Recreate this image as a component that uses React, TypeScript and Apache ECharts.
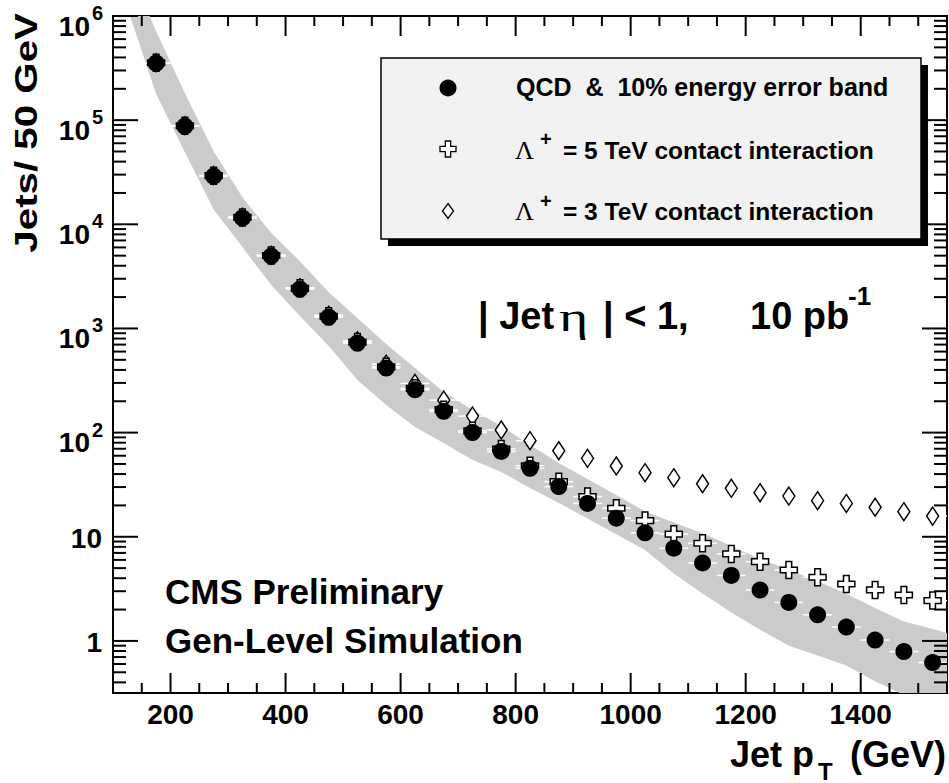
import React, { useEffect, useRef } from 'react';
import * as echarts from 'echarts';

// ---------- data ----------
const ptBins = [175, 225, 275, 325, 375, 425, 475, 525, 575, 625, 675, 725, 775, 825, 875, 925, 975, 1025, 1075, 1125, 1175, 1225, 1275, 1325, 1375, 1425, 1475, 1525];
const qcd = [352000, 87500, 29000, 11500, 4950, 2390, 1285, 724, 417, 258, 160, 100, 65.9, 45.4, 30.3, 20.9, 15.1, 10.9, 7.76, 5.6, 4.25, 3.08, 2.34, 1.78, 1.36, 1.02, 0.79, 0.62];
const ci5TeV = [355500, 88400, 29300, 11650, 5020, 2430, 1310, 740, 428, 266, 166, 104, 69.6, 48.1, 33.8, 24.3, 18.8, 14.3, 10.6, 8.66, 6.84, 5.77, 4.8, 4.09, 3.52, 3.09, 2.76, 2.44];
const ci3TeV = [356000, 88500, 29400, 11700, 5050, 2460, 1340, 760, 455, 297, 205, 144, 106, 83.6, 67, 56.7, 47.8, 41.2, 36.9, 32.3, 29.2, 26.5, 24.6, 22.2, 20.9, 19.2, 17.4, 15.8];

const bandPt = [125, 175, 225, 275, 325, 375, 425, 475, 525, 575, 625, 675, 725, 775, 825, 875, 925, 975, 1025, 1075, 1125, 1175, 1225, 1275, 1325, 1375, 1425, 1475, 1525, 1550];
const bandUpper = [3200000, 714000, 181600, 50400, 18200, 8240, 4430, 2230, 1260, 708, 417, 245, 165, 116, 76, 51, 35.9, 25.2, 17.5, 13.7, 10.8, 8.16, 6.12, 4.85, 3.74, 2.84, 2.07, 1.54, 1.3, 1.19];
const bandLower = [1190000, 178000, 49300, 13900, 6040, 2610, 1315, 678, 320, 184, 113, 79.4, 54.6, 41.9, 29.4, 21.1, 15.0, 10.6, 7.47, 4.45, 2.85, 1.87, 1.28, 0.9, 0.726, 0.582, 0.409, 0.303, 0.218, 0.187];

const xMajorTicks = [200, 400, 600, 800, 1000, 1200, 1400];
const xTickLabels = ['200', '400', '600', '800', '1000', '1200', '1400'];
const yMajorTicks = [1, 10, 100, 1000, 10000, 100000, 1000000];
const yTickExponents = [0, 1, 2, 3, 4, 5, 6];

const X_MIN = 100;
const X_MAX = 1550;
const Y_MIN = Math.pow(10, -0.5);
const Y_MAX = 1000000;
const BIN_HALF = 25;

const FONT = '"Liberation Sans", Arial, Helvetica, sans-serif';
const SERIF = '"Liberation Serif", "DejaVu Serif", serif';

function xTickData() {
  const out: number[][] = [];
  for (let v = X_MIN; v <= X_MAX; v += 50) {
    const idx = xMajorTicks.indexOf(v);
    out.push([v, 1, idx >= 0 ? 1 : 0, idx]);
  }
  return out;
}

function yTickData() {
  const out: number[][] = [];
  yMajorTicks.forEach((v, i) => out.push([X_MIN, v, 1, yTickExponents[i]]));
  for (let k = -1; k <= 5; k++) {
    for (let m = 2; m <= 9; m++) {
      const v = m * Math.pow(10, k);
      if (v >= Y_MIN && v <= Y_MAX) out.push([X_MIN, v, 0, 0]);
    }
  }
  return out;
}

const tickLine = (x1: number, y1: number, x2: number, y2: number) => ({
  type: 'line',
  shape: { x1, y1, x2, y2 },
  style: { stroke: '#000', lineWidth: 2 },
});

const label = (x: number, y: number, text: string, size: number, align = 'left', extra: any = {}) => ({
  type: 'text',
  x,
  y,
  style: {
    text,
    fill: '#000',
    fontSize: size,
    fontWeight: extra.weight || 'bold',
    fontFamily: extra.family || FONT,
    align,
    verticalAlign: 'middle',
  },
});

const gText = (x: number, y: number, text: string, size: number, extra: any = {}) => ({
  type: 'text',
  x,
  y,
  z: 100,
  silent: true,
  rotation: extra.rotation || 0,
  scaleX: extra.scaleX || 1,
  style: {
    text,
    fill: '#000',
    fontSize: size,
    fontWeight: extra.weight || 'bold',
    fontFamily: extra.family || FONT,
    align: extra.align || 'left',
    verticalAlign: 'middle',
  },
});

function crossPoints(cx: number, cy: number, size: number) {
  const a = size / 2;
  const w = size / 6;
  return [
    [cx - w, cy - a], [cx + w, cy - a], [cx + w, cy - w], [cx + a, cy - w],
    [cx + a, cy + w], [cx + w, cy + w], [cx + w, cy + a], [cx - w, cy + a],
    [cx - w, cy + w], [cx - a, cy + w], [cx - a, cy - w], [cx - w, cy - w],
  ];
}

const CROSS_PATH = 'path://M1,0H2V1H3V2H2V3H1V2H0V1H1Z';

export default function App() {
  const ref = useRef<HTMLDivElement>(null);

  useEffect(() => {
    document.body.style.margin = '0';
    if (!ref.current) return;
    const chart = echarts.init(ref.current, undefined, { renderer: 'svg' });

    const errData: number[][] = [];
    [ci3TeV, ci5TeV, qcd].forEach((arr) => arr.forEach((v, i) => errData.push([ptBins[i], v])));

    const option: any = {
      animation: false,
      backgroundColor: '#ffffff',
      grid: {
        left: 113,
        top: 16,
        right: 2,
        bottom: 90,
        show: true,
        borderColor: '#000',
        borderWidth: 2,
        backgroundColor: 'transparent',
      },
      xAxis: {
        type: 'value',
        min: X_MIN,
        max: X_MAX,
        show: false,
        splitLine: { show: false },
      },
      yAxis: {
        type: 'log',
        logBase: 10,
        min: Y_MIN,
        max: Y_MAX,
        show: false,
        splitLine: { show: false },
      },
      series: [
        {
          // 10% energy error band
          type: 'custom',
          silent: true,
          clip: true,
          data: [[X_MIN, 1]],
          encode: { x: 0, y: 1 },
          renderItem: (params: any, api: any) => {
            const up = bandPt.map((x, i) => api.coord([x, bandUpper[i]]));
            const lo = bandPt.map((x, i) => api.coord([x, bandLower[i]])).reverse();
            return {
              type: 'polygon',
              shape: { points: up.concat(lo) },
              style: { fill: '#cbcbcb' },
            };
          },
        },
        {
          // horizontal bin-width bars (white)
          type: 'custom',
          silent: true,
          clip: true,
          data: errData,
          encode: { x: 0, y: 1 },
          renderItem: (params: any, api: any) => {
            const x = api.value(0);
            const y = api.value(1);
            const p1 = api.coord([x - BIN_HALF, y]);
            const p2 = api.coord([x + BIN_HALF, y]);
            return {
              type: 'line',
              shape: { x1: p1[0], y1: p1[1], x2: p2[0], y2: p2[1] },
              style: { stroke: '#ffffff', lineWidth: 1.5 },
            };
          },
        },
        {
          name: '3 TeV',
          type: 'scatter',
          silent: true,
          symbol: 'diamond',
          symbolSize: [12, 18],
          itemStyle: { color: '#ffffff', borderColor: '#000', borderWidth: 1.5, opacity: 1 },
          data: ptBins.map((x, i) => [x, ci3TeV[i]]),
        },
        {
          name: '5 TeV',
          type: 'scatter',
          silent: true,
          symbol: CROSS_PATH,
          symbolSize: 17,
          itemStyle: { color: '#ffffff', borderColor: '#000', borderWidth: 1.5, opacity: 1 },
          data: ptBins.map((x, i) => [x, ci5TeV[i]]),
        },
        {
          name: 'QCD',
          type: 'scatter',
          silent: true,
          symbol: 'circle',
          symbolSize: 17,
          itemStyle: { color: '#000', opacity: 1 },
          data: ptBins.map((x, i) => [x, qcd[i]]),
        },
        {
          // x ticks (bottom and top) + labels
          type: 'custom',
          silent: true,
          clip: false,
          z: 10,
          data: xTickData(),
          encode: { x: 0, y: 1 },
          renderItem: (params: any, api: any) => {
            const cs = params.coordSys;
            const v = api.value(0);
            const major = api.value(2) === 1;
            const li = api.value(3);
            const x = api.coord([v, 1])[0];
            const len = major ? 20 : 10;
            const bottom = cs.y + cs.height;
            const children: any[] = [
              tickLine(x, bottom, x, bottom - len),
              tickLine(x, cs.y, x, cs.y + len),
            ];
            if (major && li >= 0) {
              children.push(label(x, bottom + 21.5, xTickLabels[li], 28, 'center'));
            }
            return { type: 'group', children };
          },
        },
        {
          // y ticks (left and right) + labels
          type: 'custom',
          silent: true,
          clip: false,
          z: 10,
          data: yTickData(),
          encode: { x: 0, y: 1 },
          renderItem: (params: any, api: any) => {
            const cs = params.coordSys;
            const v = api.value(1);
            const major = api.value(2) === 1;
            const exp = api.value(3);
            const y = api.coord([X_MIN, v])[1];
            const len = major ? 25 : 13;
            const right = cs.x + cs.width;
            const children: any[] = [
              tickLine(cs.x, y, cs.x + len, y),
              tickLine(right, y, right - len, y),
            ];
            if (major) {
              if (exp <= 1) {
                children.push(label(cs.x - 11, y + 2, exp === 0 ? '1' : '10', 28, 'right'));
              } else {
                children.push(label(cs.x - 23, y + 10, '10', 28, 'right'));
                children.push(label(cs.x - 10, y - 3, String(exp), 20, 'right'));
              }
            }
            return { type: 'group', children };
          },
        },
      ],
      graphic: [
        // legend box with shadow
        { type: 'rect', z: 99, silent: true, shape: { x: 388, y: 65, width: 540, height: 181 }, style: { fill: '#000' } },
        { type: 'rect', z: 100, silent: true, shape: { x: 381, y: 58, width: 540, height: 181 }, style: { fill: '#f2f2f2', stroke: '#000', lineWidth: 1.5 } },
        { type: 'circle', z: 101, silent: true, shape: { cx: 448, cy: 88, r: 8.5 }, style: { fill: '#000' } },
        { type: 'polygon', z: 101, silent: true, shape: { points: crossPoints(448, 149, 16) }, style: { fill: '#fff', stroke: '#000', lineWidth: 1.3 } },
        { type: 'polygon', z: 101, silent: true, shape: { points: [[448, 203.5], [453.5, 211], [448, 218.5], [442.5, 211]] }, style: { fill: '#fff', stroke: '#000', lineWidth: 1.3 } },
        gText(516, 87, 'QCD  &  10% energy error band', 25),
        gText(515, 150, 'Λ', 26, { weight: 'normal', family: SERIF }),
        gText(540, 139, '+', 20),
        gText(563, 150, '= 5 TeV contact interaction', 24.5),
        gText(515, 211.5, 'Λ', 26, { weight: 'normal', family: SERIF }),
        gText(540, 200.5, '+', 20),
        gText(563, 211.5, '= 3 TeV contact interaction', 24.5),
        // region / luminosity annotation
        gText(478, 316, '| Jet', 38),
        gText(559, 318, 'η', 40, { weight: 'normal', family: SERIF, scaleX: 1.4 }),
        gText(603, 316, '| < 1,', 38),
        gText(750, 316, '10 pb', 38),
        gText(848, 296, '-1', 26),
        // CMS labels
        gText(165, 591, 'CMS Preliminary', 35),
        gText(165, 640, 'Gen-Level Simulation', 35),
        // axis titles
        gText(730, 754, 'Jet p', 36),
        gText(818, 771, 'T', 24),
        gText(850, 754, '(GeV)', 36),
        gText(26, 13, 'Jets/ 50 GeV', 32, { rotation: Math.PI / 2, scaleX: 1.26, align: 'right' }),
      ],
    };

    chart.setOption(option);
    return () => {
      chart.dispose();
    };
  }, []);

  return <div ref={ref} style={{ width: 949, height: 783, display: 'block' }} />;
}
